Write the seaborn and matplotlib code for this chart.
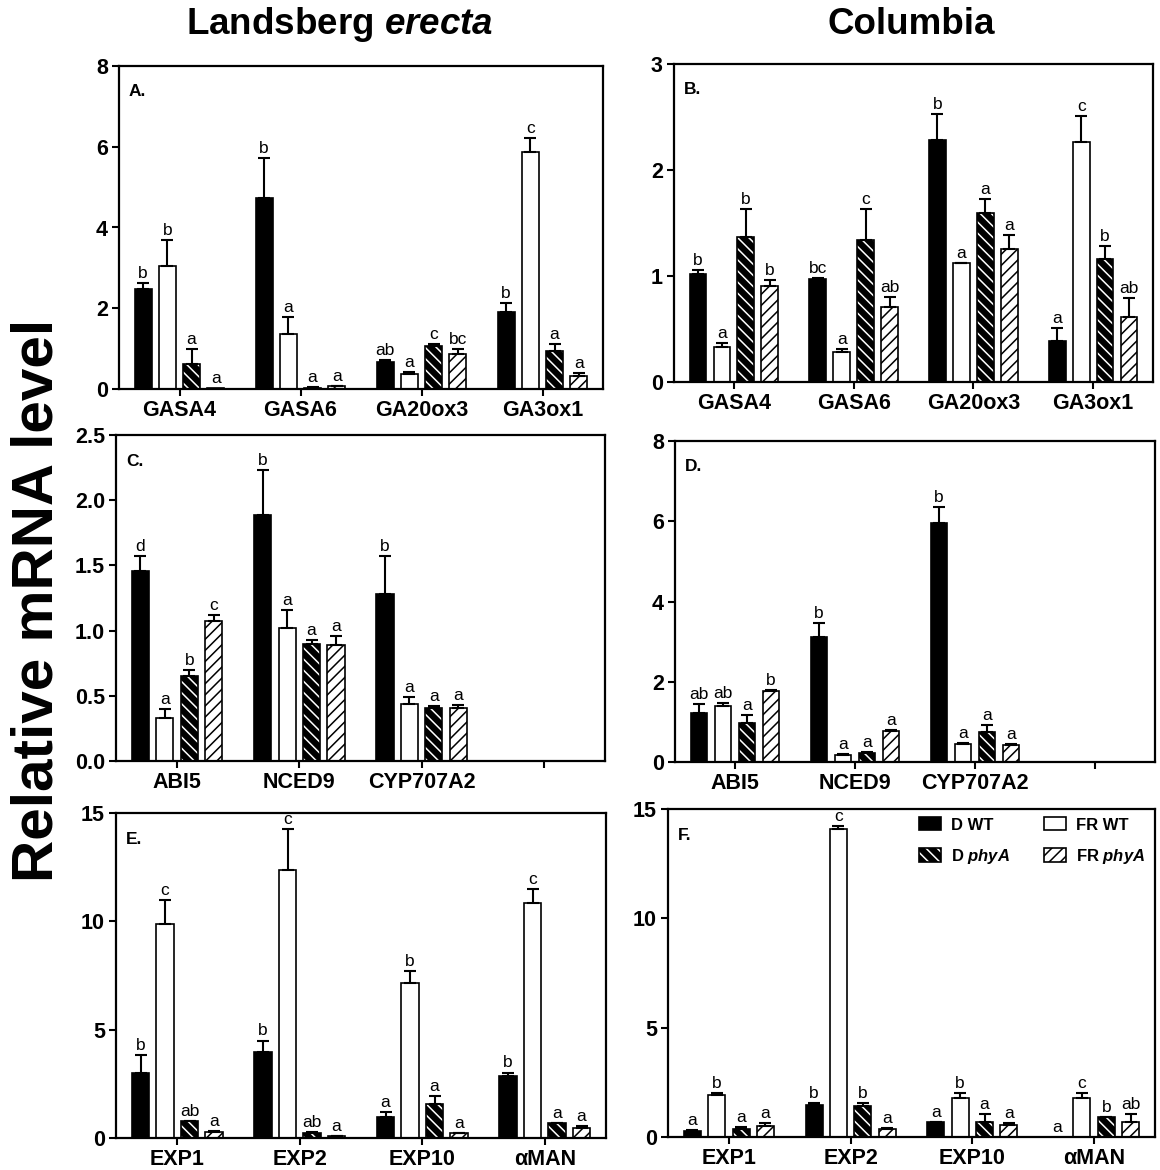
import numpy as np
import pandas as pd
import matplotlib
matplotlib.use("Agg")
import matplotlib.pyplot as plt
import matplotlib.colors as mcolors
from matplotlib.patches import Patch, Rectangle
from matplotlib.ticker import FormatStrFormatter
import seaborn as sns

# ---------------- data ----------------
treatments = ["D WT", "FR WT", "D phyA", "FR phyA"]

genes_A = ["GASA4", "GASA6", "GA20ox3", "GA3ox1"]
mean_A = [[2.47, 4.74, 0.68, 1.90],
          [3.05, 1.36, 0.36, 5.86],
          [0.61, 0.03, 1.07, 0.94],
          [0.02, 0.07, 0.86, 0.32]]
err_A = [[0.16, 0.97, 0.04, 0.24],
         [0.64, 0.42, 0.07, 0.35],
         [0.39, 0.01, 0.04, 0.17],
         [0.00, 0.01, 0.14, 0.08]]
let_A = [["b", "b", "ab", "b"],
         ["b", "a", "a", "c"],
         ["a", "a", "c", "a"],
         ["a", "a", "bc", "a"]]

genes_B = ["GASA4", "GASA6", "GA20ox3", "GA3ox1"]
mean_B = [[1.02, 0.97, 2.28, 0.39],
          [0.33, 0.28, 1.12, 2.26],
          [1.37, 1.34, 1.59, 1.16],
          [0.91, 0.71, 1.25, 0.61]]
err_B = [[0.04, 0.01, 0.25, 0.12],
         [0.04, 0.03, 0.005, 0.25],
         [0.26, 0.29, 0.14, 0.12],
         [0.05, 0.09, 0.14, 0.18]]
let_B = [["b", "bc", "b", "a"],
         ["a", "a", "a", "c"],
         ["b", "c", "a", "b"],
         ["b", "ab", "a", "ab"]]

genes_C = ["ABI5", "NCED9", "CYP707A2", ""]
mean_C = [[1.46, 1.89, 1.28],
          [0.33, 1.02, 0.44],
          [0.65, 0.90, 0.41],
          [1.07, 0.89, 0.41]]
err_C = [[0.11, 0.34, 0.29],
         [0.07, 0.14, 0.05],
         [0.05, 0.03, 0.01],
         [0.05, 0.07, 0.02]]
let_C = [["d", "b", "b"],
         ["a", "a", "a"],
         ["b", "a", "a"],
         ["c", "a", "a"]]

genes_D = ["ABI5", "NCED9", "CYP707A2", ""]
mean_D = [[1.21, 3.12, 5.96],
          [1.39, 0.17, 0.44],
          [0.97, 0.23, 0.75],
          [1.76, 0.77, 0.42]]
err_D = [[0.23, 0.35, 0.40],
         [0.09, 0.03, 0.04],
         [0.19, 0.02, 0.16],
         [0.04, 0.03, 0.03]]
let_D = [["ab", "b", "b"],
         ["ab", "a", "a"],
         ["a", "a", "a"],
         ["b", "a", "a"]]

genes_E = ["EXP1", "EXP2", "EXP10", "αMAN"]
mean_E = [[3.02, 3.99, 0.95, 2.84],
          [9.90, 12.39, 7.14, 10.86],
          [0.77, 0.23, 1.58, 0.68],
          [0.28, 0.09, 0.21, 0.48]]
err_E = [[0.80, 0.51, 0.26, 0.18],
         [1.09, 1.89, 0.55, 0.64],
         [0.03, 0.03, 0.34, 0.03],
         [0.03, 0.02, 0.04, 0.06]]
let_E = [["b", "b", "a", "b"],
         ["c", "c", "b", "c"],
         ["ab", "ab", "a", "a"],
         ["a", "a", "a", "a"]]

genes_F = ["EXP1", "EXP2", "EXP10", "αMAN"]
mean_F = [[0.27, 1.45, 0.67, 0.00],
          [1.92, 14.07, 1.78, 1.78],
          [0.38, 1.40, 0.67, 0.90],
          [0.52, 0.37, 0.55, 0.70]]
err_F = [[0.03, 0.12, 0.03, 0.00],
         [0.09, 0.17, 0.23, 0.21],
         [0.08, 0.15, 0.36, 0.02],
         [0.12, 0.03, 0.09, 0.33]]
let_F = [["a", "b", "a", "a"],
         ["b", "c", "b", "c"],
         ["a", "b", "a", "b"],
         ["a", "a", "a", "ab"]]

# ---------------- style ----------------
sns.set_style("ticks")
plt.rcParams["font.family"] = ["Liberation Sans", "DejaVu Sans"]
for k in ["text.color", "axes.labelcolor", "xtick.color", "ytick.color",
          "axes.edgecolor"]:
    plt.rcParams[k] = "black"
plt.rcParams["mathtext.fontset"] = "custom"
plt.rcParams["mathtext.rm"] = "Liberation Sans:bold"
plt.rcParams["mathtext.it"] = "Liberation Sans:italic:bold"
plt.rcParams["mathtext.bf"] = "Liberation Sans:bold"
try:
    plt.rcParams["mathtext.bfit"] = "Liberation Sans:italic:bold"
    BFIT = r"\mathbfit"
except KeyError:
    BFIT = r"\mathit"
plt.rcParams["hatch.linewidth"] = 1.1

face = {"D WT": "black", "FR WT": "white", "D phyA": "black", "FR phyA": "white"}
hatch = {"D WT": "", "FR WT": "", "D phyA": "\\\\\\", "FR phyA": "///"}
hcol = {"D WT": "black", "FR WT": "black", "D phyA": "white", "FR phyA": "black"}
NT = len(treatments)
DODGE_W = 0.8


def set_hatch_color(p, color):
    if hasattr(p, "set_hatchcolor"):
        p.set_hatchcolor(color)
    else:
        p._hatch_color = mcolors.to_rgba(color)
        p.stale = True


def style_patch(p, t):
    p.set_facecolor(face[t])
    p.set_edgecolor("black")
    p.set_hatch(hatch[t])
    set_hatch_color(p, hcol[t])


def draw_panel(ax, genes, means, errs, lets, ylim, yticks, tag, fmt=None):
    rows = []
    for t, m in zip(treatments, means):
        for g, v in zip(genes, m):
            rows.append({"gene": g, "treatment": t, "value": v})
    df = pd.DataFrame(rows)
    sns.barplot(data=df, x="gene", y="value", hue="treatment", order=genes,
                hue_order=treatments, palette=face, saturation=1, width=DODGE_W,
                gap=0.3, edgecolor="black", linewidth=1.2, errorbar=None,
                legend=False, ax=ax)
    step = DODGE_W / NT
    xs, tops, es = [], [], []
    for bar in ax.patches:
        if not isinstance(bar, Rectangle):
            continue
        cx = bar.get_x() + bar.get_width() / 2
        gi = int(round(cx))
        ti = int(round((cx - gi + DODGE_W / 2 - step / 2) / step))
        if ti < 0 or ti >= NT or gi >= len(means[ti]):
            continue
        t = treatments[ti]
        style_patch(bar, t)
        h = means[ti][gi]
        e = errs[ti][gi]
        if e > 0:
            xs.append(cx); tops.append(h); es.append(e)
        ax.annotate(lets[ti][gi], (cx, h + e), xytext=(0, 1.5),
                    textcoords="offset points", ha="center", va="bottom",
                    fontsize=12.5)
    if xs:
        ax.errorbar(xs, tops, yerr=[np.zeros(len(es)), es], fmt="none",
                    ecolor="black", elinewidth=1.5, capsize=4, capthick=1.5,
                    zorder=3)
    ax.set_xlim(-0.5, 3.5)
    ax.set_ylim(*ylim)
    ax.set_yticks(yticks)
    if fmt:
        ax.yaxis.set_major_formatter(FormatStrFormatter(fmt))
    ax.set_xlabel("")
    ax.set_ylabel("")
    ax.tick_params(axis="both", direction="out", length=5, width=1.5,
                   labelsize=15.5, pad=3, colors="black")
    for lbl in ax.get_xticklabels() + ax.get_yticklabels():
        lbl.set_fontweight("bold")
    for s in ax.spines.values():
        s.set_visible(True)
        s.set_linewidth(1.6)
        s.set_color("black")
    ax.text(0.02, 0.92, tag, transform=ax.transAxes, fontsize=12.5,
            fontweight="bold", ha="left", va="center")


W, H = 1160, 1170
fig = plt.figure(figsize=(W / 100, H / 100), dpi=100)


def box(l, r, t, b):
    return [l / W, 1 - b / H, (r - l) / W, (b - t) / H]


axA = fig.add_axes(box(119, 603, 66, 389))
axB = fig.add_axes(box(674, 1153, 64, 382))
axC = fig.add_axes(box(116, 605, 435, 761))
axD = fig.add_axes(box(675, 1155, 441, 762))
axE = fig.add_axes(box(116, 606, 813, 1138))
axF = fig.add_axes(box(668, 1155, 809, 1137))

draw_panel(axA, genes_A, mean_A, err_A, let_A, (0, 8), [0, 2, 4, 6, 8], "A.")
draw_panel(axB, genes_B, mean_B, err_B, let_B, (0, 3), [0, 1, 2, 3], "B.")
draw_panel(axC, genes_C, mean_C, err_C, let_C, (0, 2.5),
           [0, 0.5, 1.0, 1.5, 2.0, 2.5], "C.", fmt="%.1f")
draw_panel(axD, genes_D, mean_D, err_D, let_D, (0, 8), [0, 2, 4, 6, 8], "D.")
draw_panel(axE, genes_E, mean_E, err_E, let_E, (0, 15), [0, 5, 10, 15], "E.")
draw_panel(axF, genes_F, mean_F, err_F, let_F, (0, 15), [0, 5, 10, 15], "F.")

# legend
handles = []
labels_map = {"D WT": "D WT", "FR WT": "FR WT",
              "D phyA": r"D $" + BFIT + r"{phyA}$",
              "FR phyA": r"FR $" + BFIT + r"{phyA}$"}
for t in ["D WT", "D phyA", "FR WT", "FR phyA"]:
    p = Patch(facecolor=face[t], edgecolor="black", hatch=hatch[t],
              linewidth=1.2, label=labels_map[t])
    set_hatch_color(p, hcol[t])
    handles.append(p)
axF.legend(handles=handles, ncol=2, frameon=False, loc="upper left",
           bbox_to_anchor=(0.515, 0.975), borderaxespad=0, borderpad=0,
           handlelength=1.35, handleheight=0.85, handletextpad=0.6,
           columnspacing=2.0, labelspacing=0.85,
           prop={"weight": "bold", "size": 12})

# titles and shared label
fig.text(340 / W, 1 - 24 / H, r"Landsberg $" + BFIT + r"{erecta}$", ha="center",
         va="center", fontsize=26.5, fontweight="bold")
fig.text(911 / W, 1 - 24 / H, "Columbia", ha="center", va="center",
         fontsize=26.5, fontweight="bold")
fig.text(38 / W, 1 - 600 / H, "Relative mRNA level", rotation=90, ha="center",
         va="center", fontsize=42, fontweight="bold")

fig.savefig("out.png", dpi=100)
